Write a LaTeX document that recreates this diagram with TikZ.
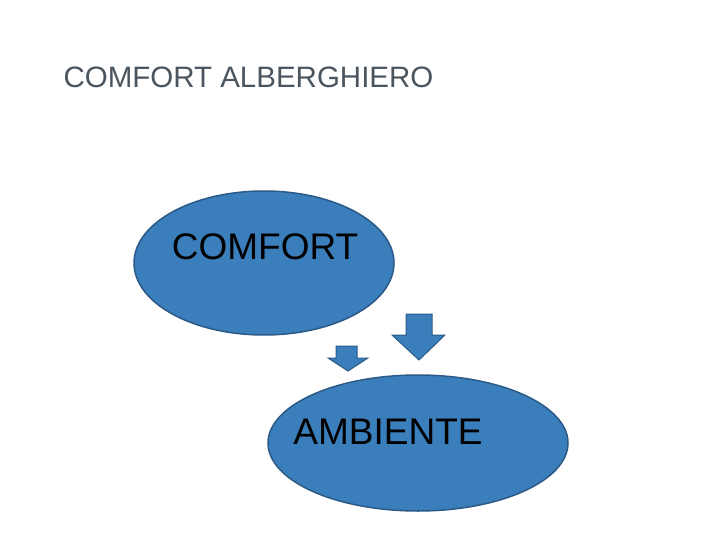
\documentclass[tikz,border=0pt]{standalone}
\usepackage{fontspec}
\setmainfont{Liberation Sans}
\definecolor{fillb}{HTML}{3A7EBB}
\definecolor{edgeb}{HTML}{2C5A86}
\definecolor{titleg}{HTML}{4A5560}
\begin{document}
\begin{tikzpicture}[x=1pt,y=-1pt,
  blob/.style={draw=edgeb,line width=1.5pt,fill=fillb},
  lbl/.style={font=\fontsize{37}{40}\selectfont,text=black}]
\useasboundingbox (0,0) rectangle (720,540);
\node[anchor=west,text=titleg,font=\fontsize{29.5}{32}\selectfont] (title) at (60,77) {COMFORT ALBERGHIERO};
\path[blob] (264,263) ellipse [x radius=130,y radius=72];
\node[lbl] (c) at (265,247) {COMFORT};
\path[blob] (418,443) ellipse [x radius=150,y radius=68];
\node[lbl] (a) at (388,432) {AMBIENTE};
\path[blob,line width=1pt] (336,346) -- (357,346) -- (357,358) -- (368,358) -- (348,371) -- (328,358) -- (336,358) -- cycle;
\path[blob,line width=1pt] (406,314) -- (432,314) -- (432,335) -- (445,335) -- (419,360) -- (392,335) -- (406,335) -- cycle;
\end{tikzpicture}
\end{document}
